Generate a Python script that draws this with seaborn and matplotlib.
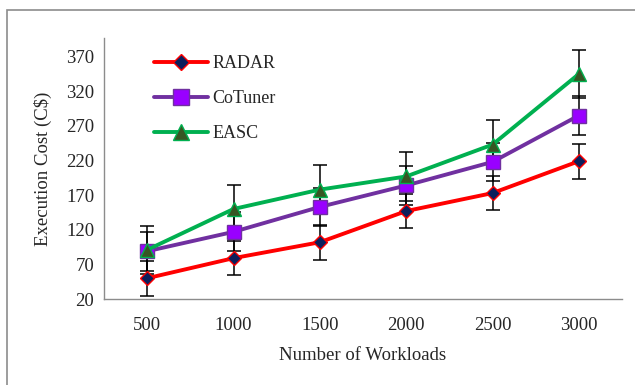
import matplotlib
matplotlib.use("Agg")
import matplotlib.pyplot as plt
from matplotlib.patches import Rectangle
import numpy as np
import pandas as pd
import seaborn as sns

# Execution cost per workload count, with error margins
workloads = ["500", "1000", "1500", "2000", "2500", "3000"]
radar = [50, 79, 102, 147, 173, 219]
cotuner = [89, 117, 153, 184, 218, 285]
easc = [91, 150, 178, 197, 243, 345]
radar_err = [25, 25, 25, 25, 25, 25]
cotuner_err = [28, 28, 28, 28, 28, 28]
easc_err = [35, 35, 35, 35, 35, 35]
y_ticks = [20, 70, 120, 170, 220, 270, 320, 370]

sns.set_theme(style="white")
plt.rcParams["font.family"] = ["Liberation Serif", "DejaVu Serif"]

fig = plt.figure(figsize=(6.35, 3.85), dpi=100)
ax = fig.add_axes([104 / 635, 1 - 299 / 385, (622 - 104) / 635, (299 - 38) / 385])

# outer chart border
fig.patches.append(Rectangle((7 / 635, -0.05), 1.2, 1 - 10 / 385 + 0.05,
                             transform=fig.transFigure, fill=False,
                             edgecolor="#8c8c8c", linewidth=1.2, zorder=0))

series = [
    ("RADAR", radar, radar_err, dict(color="#FF0000", marker="D", markersize=7.5,
                                     markerfacecolor="#0B1F5C", markeredgecolor="#FF0000",
                                     markeredgewidth=1.0)),
    ("CoTuner", cotuner, cotuner_err, dict(color="#7030A0", marker="s", markersize=10,
                                           markerfacecolor="#9900FF", markeredgecolor="#7030A0",
                                           markeredgewidth=1.0)),
    ("EASC", easc, easc_err, dict(color="#00B050", marker="^", markersize=10.5,
                                  markerfacecolor="#375623", markeredgecolor="#00B050",
                                  markeredgewidth=1.0)),
]

pos = np.arange(len(workloads))
for name, vals, errs, style in series:
    ax.errorbar(pos, vals, yerr=errs, fmt="none", ecolor="black",
                elinewidth=1.1, capsize=5, capthick=1.1, zorder=2)

for name, vals, errs, style in series:
    df = pd.DataFrame({"pos": pos, "cost": vals})
    sns.lineplot(data=df, x="pos", y="cost", ax=ax, label=name,
                 linewidth=2.8, zorder=3, **style)

ax.set_xlim(-0.5, len(workloads) - 0.5)
ax.set_ylim(20, 397)
ax.set_xticks(pos)
ax.set_xticklabels(workloads)
ax.set_yticks(y_ticks)
ax.tick_params(axis="x", labelsize=13.5, pad=13, length=0)
ax.tick_params(axis="y", labelsize=13.5, pad=7, length=0)
ax.set_xlabel("Number of Workloads", fontsize=13.5, labelpad=9)
ax.set_ylabel("Execution Cost (C$)", fontsize=13.5, labelpad=10)

for side in ["top", "right"]:
    ax.spines[side].set_visible(False)
for side in ["left", "bottom"]:
    ax.spines[side].set_color("#8c8c8c")
    ax.spines[side].set_linewidth(1.0)
ax.grid(False)

ax.legend(loc="upper left", bbox_to_anchor=(0.065, 0.997), frameon=False,
          fontsize=13, handlelength=3.0, handletextpad=0.25, labelspacing=1.0,
          markerscale=1.1)

fig.savefig("out.png", dpi=100)
